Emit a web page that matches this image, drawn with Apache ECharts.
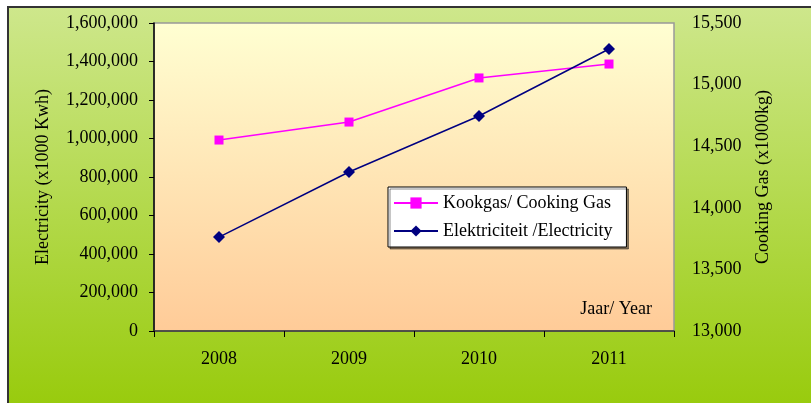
<!DOCTYPE html>
<html>
<head>
<meta charset="utf-8">
<script src="https://cdn.jsdelivr.net/npm/echarts@6/dist/echarts.min.js"></script>
<style>html,body{margin:0;padding:0;background:#fff}#c{width:811px;height:403px}</style>
</head>
<body>
<div id="c"></div>
<script>
var years = ['2008', '2009', '2010', '2011'];
var electricity = [488000, 826000, 1117000, 1465000];
var cookingGas = [14550, 14696, 15054, 15167];
var leftTicks = [0, 1600000, 200000];
var rightTicks = [13000, 15500, 500];

var font = 'Liberation Serif';
function fmt(v) { return String(v).replace(/\B(?=(\d{3})+(?!\d))/g, ','); }

var chart = echarts.init(document.getElementById('c'));
chart.setOption({
  animation: false,
  graphic: [
    {
      type: 'rect', z: -10, silent: true,
      shape: { x: 8, y: 7, width: 810, height: 400 },
      style: {
        fill: new echarts.graphic.LinearGradient(0, 0, 0, 1, [
          { offset: 0, color: '#CEE78C' },
          { offset: 1, color: '#98CB0C' }
        ]),
        stroke: '#333', lineWidth: 2
      }
    },
    {
      type: 'text', z: 10, silent: true,
      x: 652, y: 309,
      style: { text: 'Jaar/ Year', font: '18px ' + font, fill: '#000', align: 'right', verticalAlign: 'middle' }
    }
  ],
  grid: {
    left: 154, right: 137, top: 23, bottom: 72,
    show: true,
    backgroundColor: new echarts.graphic.LinearGradient(0, 0, 0, 1, [
      { offset: 0, color: '#FFFFD2' },
      { offset: 1, color: '#FFCB98' }
    ]),
    borderColor: '#999', borderWidth: 1.5
  },
  legend: {
    left: 388, top: 187,
    orient: 'vertical',
    itemGap: 10,
    itemWidth: 44, itemHeight: 14,
    padding: [7, 14, 7, 5],
    backgroundColor: '#fff',
    borderColor: '#000', borderWidth: 1,
    shadowColor: 'rgba(0,0,0,0.45)', shadowOffsetX: 2, shadowOffsetY: 2, shadowBlur: 0,
    textStyle: { fontFamily: font, fontSize: 18, color: '#000' },
    data: ['Kookgas/ Cooking Gas', 'Elektriciteit /Electricity']
  },
  xAxis: {
    type: 'category', data: years, boundaryGap: true,
    axisLine: { lineStyle: { color: '#333', width: 1.5 } },
    axisTick: { show: true, length: 6, lineStyle: { color: '#000' } },
    axisLabel: { fontFamily: font, fontSize: 18, color: '#000', margin: 19 },
    splitLine: { show: false }
  },
  yAxis: [
    {
      type: 'value', min: leftTicks[0], max: leftTicks[1], interval: leftTicks[2],
      name: 'Electricity (x1000 Kwh)', nameLocation: 'middle', nameGap: 102, nameRotate: 90,
      nameTextStyle: { fontFamily: font, fontSize: 18, color: '#000' },
      axisLine: { show: true, lineStyle: { color: '#000', width: 1.5 } },
      axisTick: { show: true, length: 5, lineStyle: { color: '#000' } },
      axisLabel: { fontFamily: font, fontSize: 18, color: '#000', margin: 16, formatter: fmt },
      splitLine: { show: false }
    },
    {
      type: 'value', min: rightTicks[0], max: rightTicks[1], interval: rightTicks[2],
      position: 'right',
      name: 'Cooking Gas (x1000kg)', nameLocation: 'middle', nameGap: 80, nameRotate: 90,
      nameTextStyle: { fontFamily: font, fontSize: 18, color: '#000' },
      axisLine: { show: false },
      axisTick: { show: false },
      axisLabel: { fontFamily: font, fontSize: 18, color: '#000', margin: 18, formatter: fmt },
      splitLine: { show: false }
    }
  ],
  series: [
    {
      name: 'Kookgas/ Cooking Gas', type: 'line', yAxisIndex: 1,
      data: cookingGas,
      symbol: 'rect', symbolSize: 9,
      lineStyle: { color: '#FF00FF', width: 1.5 },
      itemStyle: { color: '#FF00FF' }
    },
    {
      name: 'Elektriciteit /Electricity', type: 'line', yAxisIndex: 0,
      data: electricity,
      symbol: 'diamond', symbolSize: 12,
      lineStyle: { color: '#000080', width: 1.5 },
      itemStyle: { color: '#000080' }
    }
  ]
});
</script>
</body>
</html>
